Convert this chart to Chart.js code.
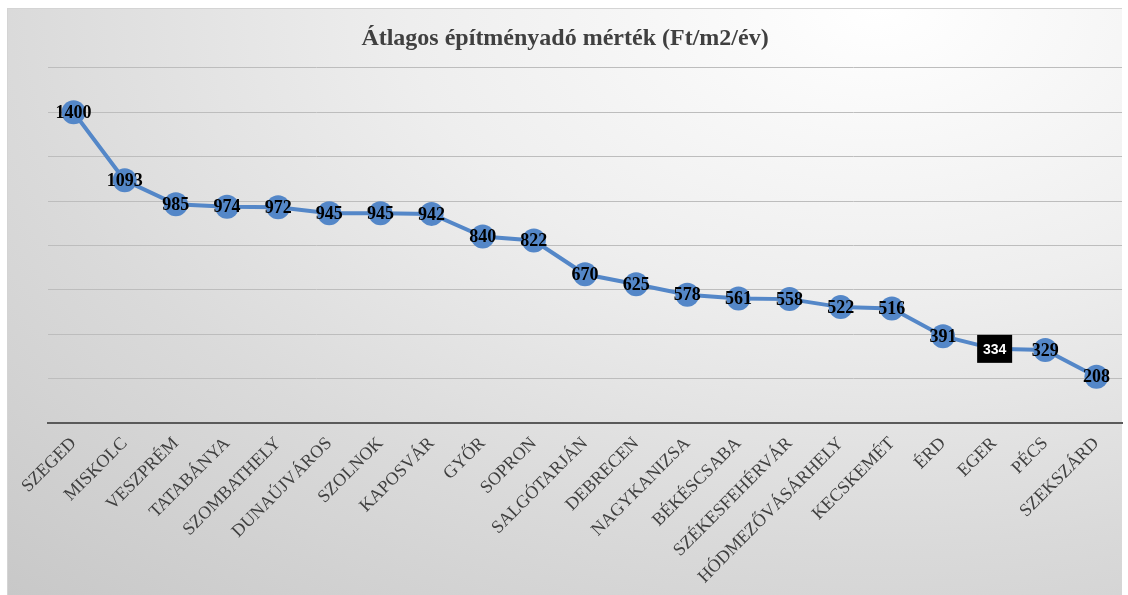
<!DOCTYPE html>
<html>
<head>
<meta charset="utf-8">
<script src="https://cdn.jsdelivr.net/npm/chart.js@4/dist/chart.umd.min.js"></script>
<style>
  html, body { margin: 0; padding: 0; background: #ffffff; }
  body { width: 1128px; height: 595px; position: relative; overflow: hidden; }
  #frame {
    position: absolute; left: 7px; top: 8px; width: 1115px; height: 587px;
    border-top: 1px solid #d4d4d4; border-left: 1px solid #d4d4d4;
    box-sizing: border-box;
    background: radial-gradient(ellipse 120% 140% at 78% 0%, #ffffff 0%, #eeeeee 35%, #dadada 65%, #c6c6c6 100%);
  }
  #frame canvas { position: absolute; left: 0; top: 0; }
</style>
</head>
<body>
<div id="frame"><canvas id="c" width="1115" height="587"></canvas></div>
<script>
// Átlagos építményadó mérték városonként
const cities = ['SZEGED', 'MISKOLC', 'VESZPRÉM', 'TATABÁNYA', 'SZOMBATHELY', 'DUNAÚJVÁROS',
  'SZOLNOK', 'KAPOSVÁR', 'GYŐR', 'SOPRON', 'SALGÓTARJÁN', 'DEBRECEN', 'NAGYKANIZSA',
  'BÉKÉSCSABA', 'SZÉKESFEHÉRVÁR', 'HÓDMEZŐVÁSÁRHELY', 'KECSKEMÉT', 'ÉRD', 'EGER', 'PÉCS', 'SZEKSZÁRD'];
const rates = [1400, 1093, 985, 974, 972, 945, 945, 942, 840, 822, 670, 625, 578, 561, 558, 522, 516, 391, 334, 329, 208];
const yTicks = [0, 200, 400, 600, 800, 1000, 1200, 1400, 1600];
const boxedCity = 'EGER';

const BLUE = '#5487c8';

// value labels drawn on the markers
const valueLabels = {
  id: 'valueLabels',
  afterDatasetsDraw(chart) {
    const ctx = chart.ctx;
    const meta = chart.getDatasetMeta(0);
    ctx.save();
    ctx.textAlign = 'center';
    ctx.textBaseline = 'middle';
    meta.data.forEach((pt, i) => {
      const txt = String(rates[i]);
      if (cities[i] === boxedCity) {
        ctx.fillStyle = '#000000';
        ctx.fillRect(pt.x - 17, pt.y - 14, 35, 28);
        ctx.fillStyle = '#ffffff';
        ctx.font = 'bold 14px "Liberation Sans", Arial, sans-serif';
        ctx.fillText(txt, pt.x + 0.5, pt.y + 1);
      } else {
        ctx.fillStyle = '#000000';
        ctx.font = 'bold 18px "Liberation Serif", "Times New Roman", serif';
        ctx.fillText(txt, pt.x, pt.y + 1);
      }
    });
    ctx.restore();
  }
};

new Chart(document.getElementById('c'), {
  type: 'line',
  data: {
    labels: cities,
    datasets: [{
      data: rates,
      borderColor: BLUE,
      borderWidth: 4,
      backgroundColor: BLUE,
      pointBackgroundColor: BLUE,
      pointBorderWidth: 0,
      pointRadius: 12,
      tension: 0,
      clip: false
    }]
  },
  options: {
    responsive: false,
    animation: false,
    layout: { autoPadding: false, padding: { left: 0, right: 1, top: 0, bottom: 0 } },
    plugins: {
      legend: { display: false },
      tooltip: { enabled: false },
      title: {
        display: true,
        text: 'Átlagos építményadó mérték (Ft/m2/év)',
        color: '#404040',
        font: { family: '"Liberation Serif", "Times New Roman", serif', size: 24, weight: 'bold' },
        padding: { top: 15, bottom: 15 }
      }
    },
    scales: {
      x: {
        offset: true,
        grid: { display: false, drawTicks: false },
        border: { display: true, color: '#5a5a5a', width: 2 },
        ticks: {
          autoSkip: false,
          minRotation: 45,
          maxRotation: 45,
          padding: 10,
          color: '#404040',
          font: { family: '"Liberation Serif", "Times New Roman", serif', size: 18 }
        },
        afterFit(scale) {
          scale.height = 173;
          scale.paddingLeft = 0;
          scale.paddingRight = 0;
        }
      },
      y: {
        min: yTicks[0],
        max: yTicks[yTicks.length - 1],
        afterBuildTicks(scale) { scale.ticks = yTicks.map(v => ({ value: v })); },
        grid: { color: '#bdbdbd', lineWidth: 1, drawTicks: false },
        border: { display: false },
        ticks: { display: false },
        afterFit(scale) { scale.width = 40; }
      }
    }
  },
  plugins: [valueLabels]
});
</script>
</body>
</html>
